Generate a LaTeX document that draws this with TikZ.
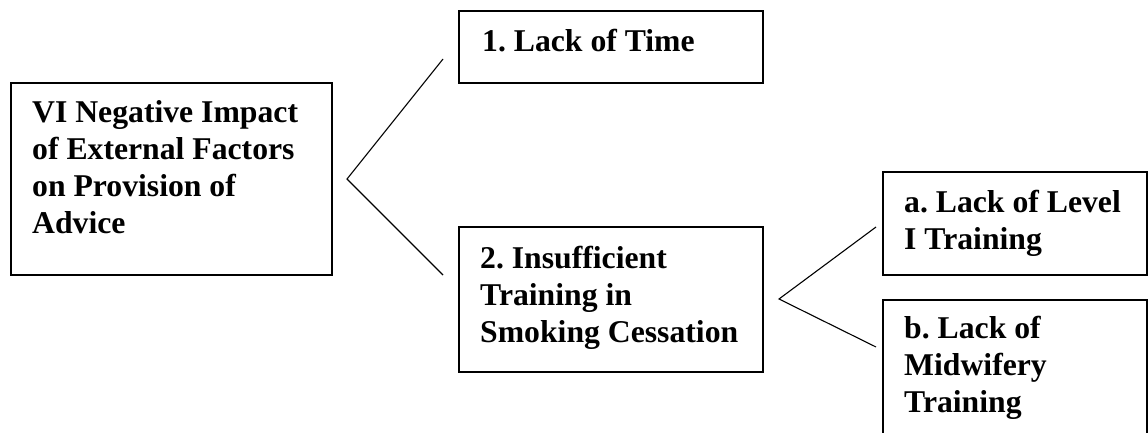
\documentclass[tikz,border=0pt]{standalone}
\usepackage{fontspec}
\setmainfont{Liberation Serif}
\frenchspacing
\begin{document}
\begin{tikzpicture}[x=1pt,y=-1pt,
  boxline/.style={draw=black,line width=1.3pt},
  label/.style={anchor=base west,inner sep=0pt,align=left,font=\frenchspacing\bfseries\fontsize{31.7pt}{36.8pt}\selectfont},
  link/.style={draw=black,line width=1.1pt}]
\useasboundingbox (0,0) rectangle (1148,433);
\clip (0,0) rectangle (1148,433);
% boxes
\draw[boxline] (11,83) rectangle (332,275);
\draw[boxline] (459,11) rectangle (763,83);
\draw[boxline] (459,227) rectangle (763,372);
\draw[boxline] (883,172) rectangle (1147,275);
\draw[boxline] (883,300) rectangle (1147,460);
% texts (anchored at the baseline of their last line)
\node[label] (main) at (32,233) {VI Negative Impact\\of External Factors\\on Provision of\\Advice};
\node[label] (time) at (482,52) {1. Lack of Time};
\node[label] (train) at (480,342) {2. Insufficient\\Training in\\Smoking Cessation};
\node[label] (levela) at (904,249) {a. Lack of Level\\I Training};
\node[label] (levelb) at (904,412) {b. Lack of\\Midwifery\\Training};
% connectors
\coordinate (v1) at (347,179);
\coordinate (t1) at (443,59);
\coordinate (b1) at (443,275);
\coordinate (v2) at (779,299);
\coordinate (t2) at (876,227);
\coordinate (b2) at (876,347);
\draw[link] (t1) -- (v1) -- (b1);
\draw[link] (t2) -- (v2) -- (b2);
\end{tikzpicture}
\end{document}
